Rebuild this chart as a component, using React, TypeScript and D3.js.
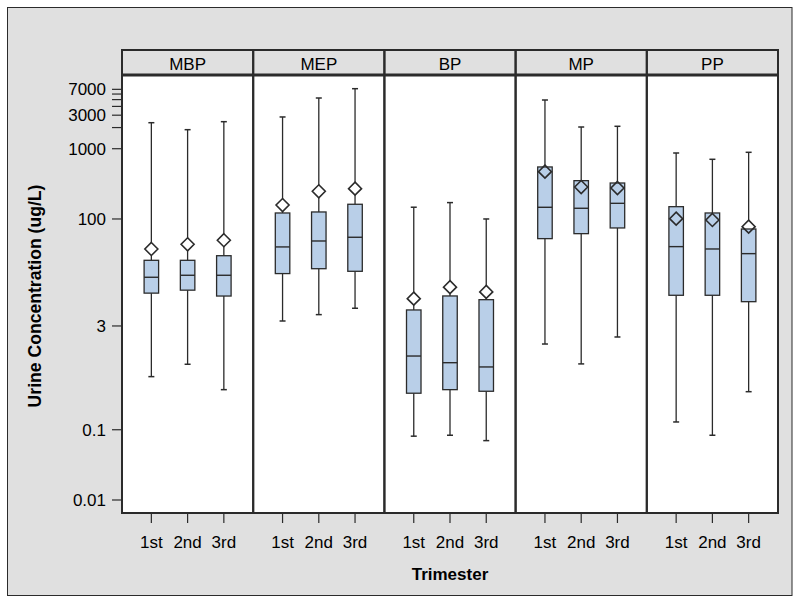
import React from "react";
import * as d3 from "d3";

const compounds = ["MBP", "MEP", "BP", "MP", "PP"];
const trimesters = ["1st", "2nd", "3rd"];

// per compound: [1st, 2nd, 3rd]
const whiskerHigh = [
  [2345, 1866, 2425],
  [2830, 5270, 7150],
  [147, 171, 100],
  [4935, 2037, 2085],
  [869, 707, 889],
];
const q3Values = [
  [25.8, 25.8, 30.0],
  [121.7, 125.8, 161.9],
  [5.07, 8.02, 7.1],
  [550, 351, 325],
  [149.6, 121.7, 72.0],
];
const medianValues = [
  [14.8, 15.8, 15.8],
  [40, 48.6, 54.9],
  [1.12, 0.9, 0.783],
  [146.7, 142, 167],
  [40.4, 37.4, 32.1],
];
const q1Values = [
  [8.8, 9.7, 8.0],
  [16.7, 19.6, 18.0],
  [0.331, 0.372, 0.353],
  [52.5, 61.8, 74.5],
  [8.2, 8.2, 6.65],
];
const whiskerLow = [
  [0.57, 0.855, 0.372],
  [3.53, 4.35, 5.36],
  [0.081, 0.0835, 0.07],
  [1.66, 0.865, 2.09],
  [0.129, 0.0835, 0.348],
];
const meanValues = [
  [37.4, 43.6, 49.8],
  [158, 248, 270],
  [7.34, 10.7, 9.15],
  [471, 285, 276],
  [101, 96.8, 77.7],
];

const yMajorTicks = [0.01, 0.1, 3, 100, 1000, 3000, 7000];
const yMinorTicks = [2000, 4000, 5000, 6000];
const yDomain = [0.00653, 11200];

const W = 800;
const H = 604;
const left = 122;
const right = 778;
const headerTop = 50;
const plotTop = 75;
const plotBottom = 513;
const font = "Liberation Sans, Arial, Helvetica, sans-serif";
const dark = "#2b2b2b";
const boxFill = "#b9cfe8";
const grayBg = "#e0e0e0";

export default function App() {
  const y = d3.scaleLog().domain(yDomain).range([plotBottom, plotTop]);
  const panel = d3.scaleBand<string>().domain(compounds).range([left, right]).padding(0);
  const pw = panel.bandwidth();
  const x = d3.scalePoint<string>().domain(trimesters).range([0, pw]).padding(0.81);
  const bw = 14.5;
  const cap = 3;
  const dm = 6.5;

  return (
    <svg width={W} height={H} style={{ position: "absolute", left: 0, top: 0 }} fontFamily={font}>
      <rect x={0} y={0} width={W} height={H} fill="#ffffff" />
      <rect x={7.5} y={7.5} width={784.5} height={588} fill={grayBg} stroke={dark} strokeWidth={1} />
      <rect x={left} y={plotTop} width={right - left} height={plotBottom - plotTop} fill="#ffffff" />
      {compounds.map((c) => (
        <g key={"h" + c}>
          <rect x={panel(c)} y={headerTop} width={pw} height={plotTop - headerTop} fill={grayBg} />
          <text x={(panel(c) as number) + pw / 2} y={70} textAnchor="middle" fontSize={17} fill="#000">
            {c}
          </text>
        </g>
      ))}
      {compounds.map((c, ci) => (
        <g key={"p" + c} transform={`translate(${panel(c)},0)`}>
          {trimesters.map((t, ti) => {
            const cx = x(t) as number;
            const yHi = y(whiskerHigh[ci][ti]);
            const yLo = y(whiskerLow[ci][ti]);
            const yQ3 = y(q3Values[ci][ti]);
            const yQ1 = y(q1Values[ci][ti]);
            const yMed = y(medianValues[ci][ti]);
            const yMean = y(meanValues[ci][ti]);
            const diamond = `M${cx},${yMean - dm} L${cx + dm},${yMean} L${cx},${yMean + dm} L${cx - dm},${yMean} Z`;
            return (
              <g key={t}>
                <line x1={cx} x2={cx} y1={yHi} y2={yQ3} stroke={dark} strokeWidth={1.3} />
                <line x1={cx} x2={cx} y1={yQ1} y2={yLo} stroke={dark} strokeWidth={1.3} />
                <line x1={cx - cap} x2={cx + cap} y1={yHi} y2={yHi} stroke={dark} strokeWidth={1.5} />
                <line x1={cx - cap} x2={cx + cap} y1={yLo} y2={yLo} stroke={dark} strokeWidth={1.5} />
                <path d={diamond} fill="#ffffff" stroke="none" />
                <rect x={cx - bw / 2} y={yQ3} width={bw} height={yQ1 - yQ3} fill={boxFill} stroke={dark} strokeWidth={1.3} />
                <line x1={cx - bw / 2} x2={cx + bw / 2} y1={yMed} y2={yMed} stroke={dark} strokeWidth={1.4} />
                <path d={diamond} fill="none" stroke={dark} strokeWidth={1.6} />
              </g>
            );
          })}
        </g>
      ))}
      {compounds.map((c) => (
        <rect key={"b" + c} x={panel(c)} y={headerTop} width={pw} height={plotBottom - headerTop} fill="none" stroke={dark} strokeWidth={2} />
      ))}
      <line x1={left} x2={right} y1={headerTop} y2={headerTop} stroke={dark} strokeWidth={1.5} />
      <line x1={left} x2={right} y1={plotTop} y2={plotTop} stroke={dark} strokeWidth={3} />
      <line x1={left} x2={right} y1={plotBottom} y2={plotBottom} stroke={dark} strokeWidth={1.5} />
      {yMajorTicks.map((v) => (
        <g key={"yt" + v}>
          <line x1={112} x2={left} y1={y(v)} y2={y(v)} stroke={dark} strokeWidth={1.2} />
          <text x={106} y={y(v)} dy="0.36em" textAnchor="end" fontSize={17} fill="#000">
            {String(v)}
          </text>
        </g>
      ))}
      {yMinorTicks.map((v) => (
        <line key={"ym" + v} x1={112} x2={left} y1={y(v)} y2={y(v)} stroke={dark} strokeWidth={1.2} />
      ))}
      {compounds.map((c) => (
        <g key={"x" + c} transform={`translate(${panel(c)},0)`}>
          {trimesters.map((t) => (
            <g key={t}>
              <line x1={x(t)} x2={x(t)} y1={plotBottom} y2={523} stroke={dark} strokeWidth={1.2} />
              <text x={x(t)} y={548} textAnchor="middle" fontSize={17} fill="#000">
                {t}
              </text>
            </g>
          ))}
        </g>
      ))}
      <text x={(left + right) / 2} y={580} textAnchor="middle" fontSize={17} fontWeight="bold" fill="#000">
        Trimester
      </text>
      <text
        transform={`translate(41,296) rotate(-90)`}
        textAnchor="middle"
        fontSize={17.6}
        fontWeight="bold"
        fill="#000"
      >
        Urine Concentration (ug/L)
      </text>
    </svg>
  );
}
